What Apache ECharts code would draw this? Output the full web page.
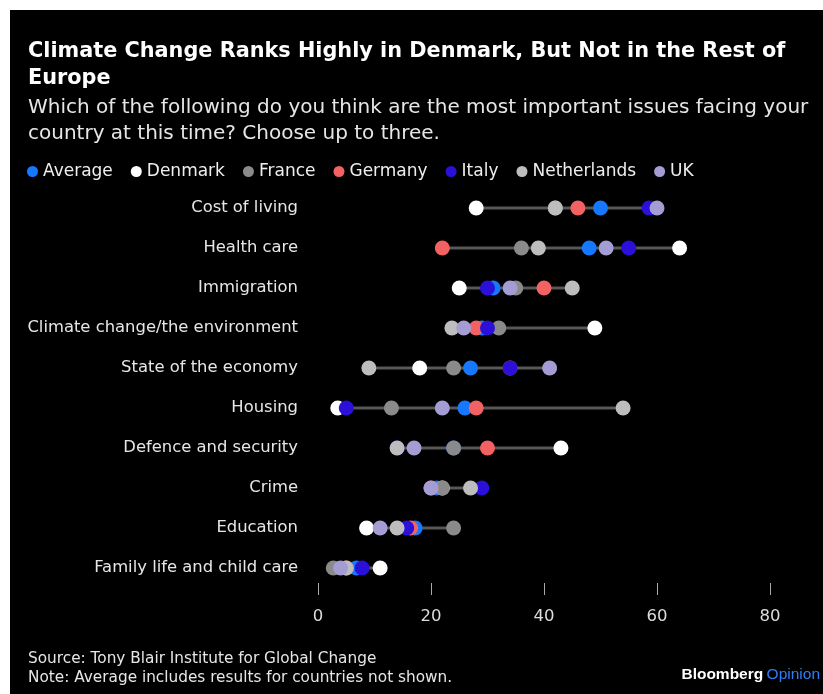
<!DOCTYPE html>
<html>
<head>
<meta charset="utf-8">
<script src="https://cdn.jsdelivr.net/npm/echarts@6/dist/echarts.min.js"></script>
<style>
html,body{margin:0;padding:0;background:#fff;}
#bg{position:absolute;left:10px;top:10px;width:813px;height:684px;background:#000;}
#chart{position:absolute;left:0;top:0;width:823px;height:694px;}
</style>
</head>
<body>
<div id="bg"></div>
<div id="chart"></div>
<script>
const categories = ['Cost of living','Health care','Immigration','Climate change/the environment','State of the economy','Housing','Defence and security','Crime','Education','Family life and child care'];
const average     = [50, 48, 31, 29, 27, 26, 24, 21, 17.2, 6.8];
const denmark     = [28, 64, 25, 49, 18, 3.5, 43, 22, 8.6, 11];
const france      = [42, 36, 35, 32, 24, 13, 24, 22, 24, 2.7];
const germany     = [46, 22, 40, 28, 34, 28, 30, 20, 16.4, 5];
const italy       = [58.6, 55, 30, 30, 34, 5, 14, 29, 15.7, 7.8];
const netherlands = [42, 39, 45, 23.7, 9, 54, 14, 27, 14, 5];
const uk          = [60, 51, 34, 25.8, 41, 22, 17, 20, 11, 4];
const xTicks = [0, 20, 40, 60, 80];

const seriesDefs = [
  {name:'Average', data: average, color:'#1677ff'},
  {name:'Denmark', data: denmark, color:'#ffffff'},
  {name:'France', data: france, color:'#8a8a8a'},
  {name:'Germany', data: germany, color:'#f26262'},
  {name:'Italy', data: italy, color:'#2a10d8'},
  {name:'Netherlands', data: netherlands, color:'#bdbdbd'},
  {name:'UK', data: uk, color:'#a39dd4'}
];

const ranges = categories.map((c, i) => {
  const vals = seriesDefs.map(s => s.data[i]);
  return [Math.min(...vals), Math.max(...vals), i];
});

const FONT = 'DejaVu Sans';
const chart = echarts.init(document.getElementById('chart'), null, {renderer:'canvas'});
chart.setOption({
  backgroundColor: 'transparent',
  animation: false,
  textStyle: {fontFamily: FONT},
  title: [
    {text: 'Climate Change Ranks Highly in Denmark, But Not in the Rest of\nEurope', left: 23, top: 33,
     textStyle: {color:'#fff', fontSize: 20.8, fontWeight:'bold', lineHeight: 27, fontFamily: FONT}},
    {text: 'Which of the following do you think are the most important issues facing your\ncountry at this time? Choose up to three.', left: 23, top: 90,
     textStyle: {color:'#e6e6e6', fontSize: 20, fontWeight:'normal', lineHeight: 26, fontFamily: FONT}}
  ],
  legend: {
    left: 22, top: 158, icon: 'circle', itemWidth: 11, itemHeight: 11, itemGap: 18,
    textStyle: {color:'#eee', fontSize: 17, fontFamily: FONT},
    data: seriesDefs.map(s => s.name)
  },
  grid: {left: 318, right: 53, top: 188, bottom: 106, containLabel: false},
  xAxis: {
    type: 'value', min: 0, max: 80, interval: 20, offset: -5,
    axisLine: {show: false},
    axisTick: {show: true, length: 12, lineStyle: {color:'#aaa', width: 1}},
    splitLine: {show: false},
    axisLabel: {color:'#ddd', fontSize: 16.5, margin: 25, fontFamily: FONT,
      formatter: v => xTicks.includes(v) ? String(v) : ''}
  },
  yAxis: {
    type: 'category', data: categories, inverse: true,
    axisLine: {show: false}, axisTick: {show: false}, splitLine: {show:false},
    axisLabel: {color:'#e6e6e6', fontSize: 16.4, margin: 20, fontFamily: FONT}
  },
  series: [
    {
      type: 'custom', name: 'range', silent: true, z: 1,
      encode: {x: [0, 1], y: 2},
      data: ranges,
      renderItem: (params, api) => {
        const y = api.value(2);
        const p1 = api.coord([api.value(0), y]);
        const p2 = api.coord([api.value(1), y]);
        return {type:'line', shape:{x1:p1[0], y1:p1[1], x2:p2[0], y2:p2[1]}, style:{stroke:'#575757', lineWidth:3}};
      }
    }
  ].concat(seriesDefs.map((s, k) => ({
    type: 'scatter', name: s.name, symbol: 'circle', symbolSize: 15, z: 2 + k,
    itemStyle: {color: s.color, opacity: 1},
    data: s.data.map((v, i) => [v, categories[i]])
  }))),
  graphic: [
    {type:'text', left: 28, top: 652, style:{text:'Source: Tony Blair Institute for Global Change', fill:'#e6e6e6', font:'15.3px "DejaVu Sans"'}},
    {type:'text', left: 28, top: 671, style:{text:'Note: Average includes results for countries not shown.', fill:'#e6e6e6', font:'15.3px "DejaVu Sans"'}},
    {type:'text', right: 3, top: 667, style:{
      text:'{a|Bloomberg} {b|Opinion}',
      rich:{a:{fill:'#fff', font:'bold 15.5px "Liberation Sans"'}, b:{fill:'#2f7df6', font:'15.5px "Liberation Sans"'}}
    }}
  ]
});
</script>
</body>
</html>
